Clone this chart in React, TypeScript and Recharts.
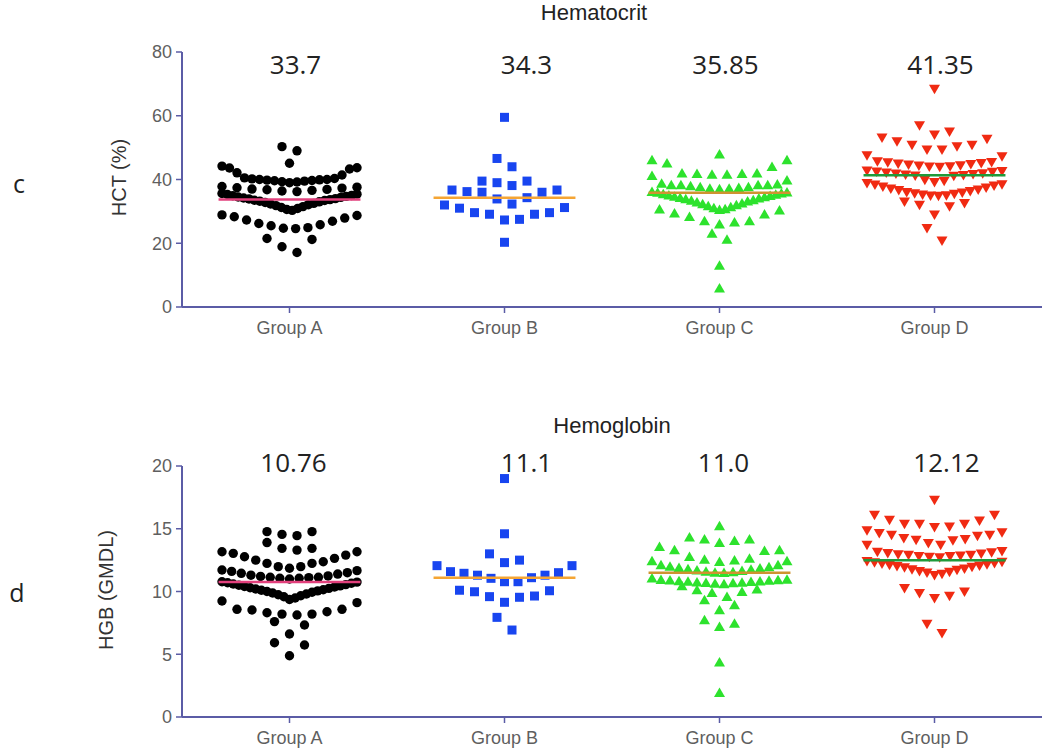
import React from 'react';
import { ScatterChart, Scatter, XAxis, YAxis } from 'recharts';

const GROUPS = ['Group A', 'Group B', 'Group C', 'Group D'];

// Hematocrit, HCT (%) - each inner array is one row of side-by-side dots
const hctA = [
  [50.3, 49.0],
  [45.1],
  [44.2, 43.7, 43.6, 43.3, 42.1, 41.4, 40.5, 40.3, 40.2, 40.0, 40.0, 39.9, 39.8, 39.7, 39.6, 39.5, 39.3, 39.2, 39.0],
  [37.8, 37.6, 37.4, 37.3, 37.0, 36.9, 36.8, 36.6, 36.4, 36.2],
  [35.6, 35.4, 35.3, 35.0, 34.9, 34.7, 34.5, 34.4, 34.2, 34.0, 33.9, 33.7, 33.5,
    33.4, 33.2, 33.0, 32.8, 32.5, 32.3, 32.1, 31.8, 31.5, 31.2, 30.9, 30.6, 30.3],
  [28.9, 28.7, 28.3, 27.9, 27.3, 26.9, 26.2, 25.8, 25.5, 24.9, 24.7, 24.6],
  [21.5, 21.2, 18.9, 17.1],
];
const hctB = [
  [59.5],
  [46.6, 44.0],
  [39.5, 39.5, 39.0, 38.1],
  [36.7, 36.7, 36.2, 36.0, 36.0, 34.3, 33.9, 32.3],
  [32.0, 31.2, 31.0, 29.6, 29.6, 29.1, 29.1, 27.5, 27.3],
  [20.3],
];
const hctC = [
  [47.9],
  [46.1, 46.1, 45.1, 44.0, 42.0, 42.0, 41.8, 41.8, 41.6, 41.6],
  [41.2, 39.8, 38.8, 38.5, 38.3, 38.3, 38.3, 38.0, 37.7, 37.7, 37.4, 37.2, 37.2, 37.0, 38.3],
  [36.2, 36.0, 35.9, 35.7, 35.5, 35.3, 35.1, 34.9, 34.7, 34.5, 34.3, 34.1, 33.9,
    33.6, 33.4, 33.2, 32.9, 32.6, 32.3, 32.0, 31.7, 31.4, 31.1, 30.8, 30.5],
  [30.7, 30.4, 29.4, 29.1, 28.3, 27.0, 27.0, 26.6, 26.0],
  [23.1, 21.2],
  [13.0],
  [5.9],
];
const hctD = [
  [68.4],
  [56.9, 55.0, 54.0],
  [53.1, 52.7, 51.9, 50.8, 50.8, 50.3, 49.3, 49.3],
  [47.5, 47.2, 45.6, 45.4, 45.3, 45.1, 44.9, 44.8, 44.6, 44.4, 44.3, 44.1, 44.0, 43.9],
  [42.7, 42.6, 42.4, 42.3, 42.1, 41.9, 41.8, 41.6, 41.5, 41.3, 41.2, 41.1, 39.8, 39.5, 39.1],
  [38.8, 38.4, 38.3, 38.0, 37.7, 37.4, 37.1, 36.8, 36.6, 36.3, 36.0, 35.8, 35.6,
    35.4, 35.2, 35.0, 34.9, 34.8],
  [33.0, 32.5, 32.0, 31.5, 28.9],
  [24.7, 20.8],
];
const hctMedians = [33.7, 34.3, 35.85, 41.35];
const hctLabels = ['33.7', '34.3', '35.85', '41.35'];
const hctTicks = [0, 20, 40, 60, 80];

// Hemoglobin, HGB (GM/DL)
const hgbA = [
  [14.77, 14.77, 14.55, 14.45],
  [13.9, 13.44, 13.44, 13.3],
  [13.17, 13.17, 13.04, 12.9, 12.77, 12.64, 12.5, 12.37, 12.24, 12.24, 11.98, 11.98, 11.85],
  [11.71, 11.66, 11.6, 11.5, 11.45, 11.39, 11.3, 11.24, 11.2, 11.13, 11.13, 11.1, 11.05, 11.05, 11.0],
  [10.78, 10.75, 10.7, 10.66, 10.6, 10.55, 10.5, 10.45, 10.4, 10.36, 10.3, 10.25, 10.2,
    10.14, 10.1, 10.05, 10.0, 9.94, 9.88, 9.8, 9.74, 9.66, 9.58, 9.48, 9.36],
  [9.24, 9.11, 8.58, 8.58, 8.53, 8.39, 8.31, 8.2, 8.2, 8.13],
  [7.6, 7.33, 6.61],
  [5.92, 5.74, 4.88],
];
const hgbB = [
  [19.0],
  [14.6],
  [13.0, 12.5, 12.3],
  [12.06, 12.06, 11.58, 11.5, 11.45, 11.3, 11.3, 11.1, 11.05, 10.78, 10.78],
  [10.1, 10.06, 9.98, 9.64, 9.59, 9.54, 9.14],
  [7.94, 6.93],
];
const hgbC = [
  [15.22],
  [14.32, 14.16, 14.16, 14.05, 13.89],
  [13.57, 13.31, 13.31, 13.25, 12.77, 12.64, 12.56, 12.5, 12.37],
  [12.43, 12.43, 12.11, 12.11, 12.0, 11.95, 11.9, 11.85, 11.8, 11.75, 11.7, 11.65, 11.6, 11.55, 11.52, 11.5],
  [11.05, 10.97, 10.95, 10.92, 10.9, 10.88, 10.85, 10.82, 10.8, 10.78, 10.75, 10.72, 10.7, 10.68, 10.65, 10.6],
  [10.44, 10.18, 10.12, 9.98, 9.9, 9.59],
  [9.32, 8.92, 8.53],
  [7.73, 7.46, 7.2],
  [4.36],
  [1.94],
];
const hgbD = [
  [17.29],
  [16.1, 16.1, 15.7, 15.64, 15.38, 15.38, 15.38, 15.16, 15.11],
  [14.85, 14.69, 14.63, 14.5, 14.5, 14.42, 14.24, 14.16, 14.1, 14.05, 13.84, 13.7],
  [13.7, 13.2, 13.15, 13.1, 13.05, 13.0, 12.95, 12.9, 12.9, 12.85, 12.8, 12.8, 12.75, 12.7],
  [12.4, 12.35, 12.3, 12.25, 12.2, 12.15, 12.1, 12.05, 12.0, 11.95, 11.9, 11.8, 11.75,
    11.7, 11.6, 11.55, 11.5, 11.4, 11.3],
  [10.25, 9.98, 9.85, 9.64, 9.46],
  [7.41, 6.67],
];
const hgbMedians = [10.76, 11.1, 11.5, 12.5];
const hgbLabels = ['10.76', '11.1', '11.0', '12.12'];
const hgbTicks = [0, 5, 10, 15, 20];

const AXIS_COLOR = '#5b5ca6';
const ARIAL = '"Liberation Sans", Arial, sans-serif';
const CALIBRI = '"Open Sans", "Noto Sans", sans-serif';
const PLOT_LEFT = 182;
const PLOT_WIDTH = 860;
const PX_PER_GROUP = PLOT_WIDTH / 4;
const MAX_SPACING = 15; // px between neighbours in a row
const MAX_ROW_WIDTH = 135; // px, rows with many dots get squeezed (and overlap)

const MARKERS = [
  { kind: 'circle', color: '#000000', line: '#e2407c' },
  { kind: 'square', color: '#1845f0', line: '#f5a534' },
  { kind: 'up', color: '#2de22d', line: '#cf9330' },
  { kind: 'down', color: '#f02a12', line: '#1f9a3a' },
];

// Prism-like row layout: lowest value of a row in the middle, higher ones pushed outwards
function layoutRows(rows: number[][], center: number) {
  const points: { x: number; y: number }[] = [];
  rows.forEach(row => {
    const sorted = [...row].sort((a, b) => a - b);
    const n = sorted.length;
    const gap = n > 1 ? Math.min(MAX_SPACING, MAX_ROW_WIDTH / (n - 1)) : 0;
    const slots = sorted.map((_, j) => j - (n - 1) / 2)
      .sort((a, b) => Math.abs(a) - Math.abs(b) || b - a);
    sorted.forEach((v, j) => points.push({ x: center + (slots[j] * gap) / PX_PER_GROUP, y: v }));
  });
  return points;
}

function markerShape(kind: string, color: string) {
  return (props: any) => {
    const { cx, cy } = props;
    if (cx == null || cy == null) return <g />;
    if (kind === 'circle') return <circle cx={cx} cy={cy} r={4.7} fill={color} />;
    if (kind === 'square') return <rect x={cx - 4.5} y={cy - 4.5} width={9} height={9} fill={color} />;
    if (kind === 'up')
      return <polygon points={`${cx},${cy - 5.2} ${cx - 5.5},${cy + 4.3} ${cx + 5.5},${cy + 4.3}`} fill={color} />;
    return <polygon points={`${cx - 5.5},${cy - 4.3} ${cx + 5.5},${cy - 4.3} ${cx},${cy + 5.2}`} fill={color} />;
  };
}

const noShape = () => <g />;

interface PanelProps {
  top: number;
  height: number;
  plotTop: number;
  plotHeight: number;
  max: number;
  ticks: number[];
  groups: number[][][];
  medians: number[];
}

function Panel({ top, height, plotTop, plotHeight, max, ticks, groups, medians }: PanelProps) {
  const series = groups.map((rows, i) => layoutRows(rows, i + 1));
  return (
    <div style={{ position: 'absolute', left: 0, top, width: 1050, height }}>
      <ScatterChart
        width={1050}
        height={height}
        margin={{ top: plotTop, right: 1050 - PLOT_LEFT - PLOT_WIDTH, bottom: height - plotTop - plotHeight - 30, left: 0 }}
      >
        <XAxis
          type="number"
          dataKey="x"
          domain={[0.5, 4.5]}
          ticks={[1, 2, 3, 4]}
          tickFormatter={(v: number) => GROUPS[v - 1]}
          height={30}
          axisLine={{ stroke: AXIS_COLOR, strokeWidth: 2 }}
          tickLine={{ stroke: AXIS_COLOR, strokeWidth: 1.5 }}
          tickSize={6}
          tickMargin={8}
          tick={{ fill: '#5f5f5f', fontSize: 18, fontFamily: ARIAL }}
        />
        <YAxis
          type="number"
          dataKey="y"
          domain={[0, max]}
          ticks={ticks}
          width={PLOT_LEFT}
          axisLine={{ stroke: AXIS_COLOR, strokeWidth: 2 }}
          tickLine={{ stroke: AXIS_COLOR, strokeWidth: 1.5 }}
          tickSize={6}
          tickMargin={4}
          tick={{ fill: '#5f5f5f', fontSize: 18, fontFamily: ARIAL }}
        />
        {series.map((data, i) => (
          <Scatter
            key={GROUPS[i]}
            name={GROUPS[i]}
            data={data}
            shape={markerShape(MARKERS[i].kind, MARKERS[i].color)}
            isAnimationActive={false}
          />
        ))}
        {medians.map((m, i) => (
          <Scatter
            key={`median-${i}`}
            data={[{ x: i + 1 - 0.33, y: m }, { x: i + 1 + 0.33, y: m }]}
            line={{ stroke: MARKERS[i].line, strokeWidth: 2.5 }}
            shape={noShape}
            legendType="none"
            isAnimationActive={false}
          />
        ))}
      </ScatterChart>
    </div>
  );
}

const groupCenter = (i: number) => PLOT_LEFT + PX_PER_GROUP * (i + 0.5);

export default function App() {
  return (
    <div style={{ position: 'absolute', left: 0, top: 0, width: 1050, height: 753, background: '#fff' }}>
      <Panel top={0} height={340} plotTop={52} plotHeight={255} max={80} ticks={hctTicks}
        groups={[hctA, hctB, hctC, hctD]} medians={hctMedians} />
      <Panel top={400} height={353} plotTop={66} plotHeight={251} max={20} ticks={hgbTicks}
        groups={[hgbA, hgbB, hgbC, hgbD]} medians={hgbMedians} />
      <svg width={1050} height={753} style={{ position: 'absolute', left: 0, top: 0, pointerEvents: 'none' }}>
        <text x={594} y={20} textAnchor="middle" fontSize={22} fontFamily={ARIAL} fill="#222">Hematocrit</text>
        <text x={612} y={433} textAnchor="middle" fontSize={22} fontFamily={ARIAL} fill="#222">Hemoglobin</text>
        <text x={19} y={192.5} textAnchor="middle" fontSize={25} fontFamily={CALIBRI} fill="#222">c</text>
        <text x={17} y={601.5} textAnchor="middle" fontSize={25} fontFamily={CALIBRI} fill="#222">d</text>
        <text transform="translate(118.5,177.5) rotate(-90)" textAnchor="middle" dominantBaseline="central"
          fontSize={20} fontFamily={ARIAL} fill="#333">HCT (%)</text>
        <text transform="translate(106,590) rotate(-90)" textAnchor="middle" dominantBaseline="central"
          fontSize={20} fontFamily={ARIAL} fill="#333">HGB (GMDL)</text>
        {hctLabels.map((t, i) => (
          <text key={`a${i}`} x={groupCenter(i) + 6 + (i === 1 ? 16 : 0)} y={74}
            textAnchor="middle" fontSize={26} fontFamily={CALIBRI} fill="#222">{t}</text>
        ))}
        {hgbLabels.map((t, i) => (
          <text key={`b${i}`} x={groupCenter(i) + 4 + (i === 1 ? 18 : 0) + (i === 3 ? 8 : 0)} y={471.5}
            textAnchor="middle" fontSize={26} fontFamily={CALIBRI} fill="#222">{t}</text>
        ))}
      </svg>
    </div>
  );
}
